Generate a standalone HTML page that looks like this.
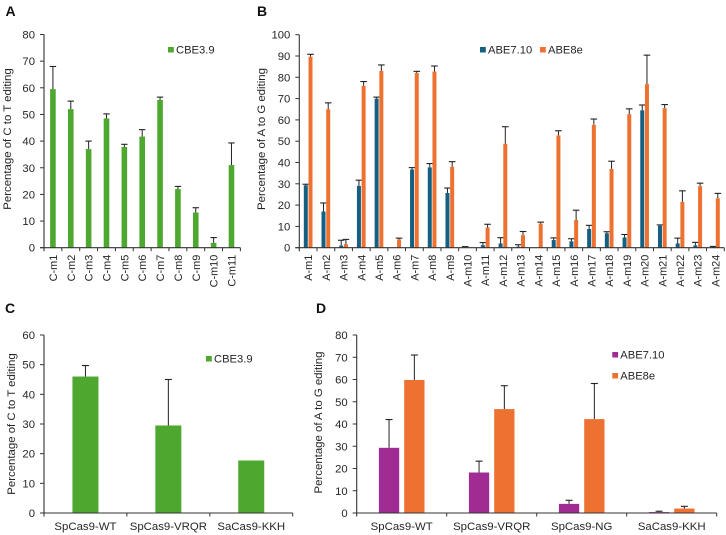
<!DOCTYPE html>
<html>
<head>
<meta charset="utf-8">
<title>Base editing charts</title>
<style>
html,body{margin:0;padding:0;background:#fff;width:726px;height:535px;overflow:hidden}
svg{display:block;filter:blur(0.3px)}
text{font-family:"Liberation Sans",sans-serif;font-size:11.3px;fill:#262626}
.panel{font-size:14px;font-weight:bold;fill:#111}
.title{font-size:11.4px}
.cat-rot{font-size:10.9px}
.cat-hor{font-size:11.4px}
.legend{font-size:11.2px}
</style>
</head>
<body>
<svg id="figure" width="726" height="535" viewBox="0 0 726 535" xmlns="http://www.w3.org/2000/svg"></svg>
<script>
// Panel A
const categoriesA = ['C-m1','C-m2','C-m3','C-m4','C-m5','C-m6','C-m7','C-m8','C-m9','C-m10','C-m11'];
const cbeValuesA = [59.5,52,37,48.5,37.8,41.7,55.5,22,13.2,1.8,31];
const cbeErrorsA = [8.5,3,3,1.7,1,2.6,1,1,1.8,2,8.3];
const ticksA = [0,10,20,30,40,50,60,70,80];
// Panel B
const categoriesB = ['A-m1','A-m2','A-m3','A-m4','A-m5','A-m6','A-m7','A-m8','A-m9','A-m10','A-m11','A-m12','A-m13','A-m14','A-m15','A-m16','A-m17','A-m18','A-m19','A-m20','A-m21','A-m22','A-m23','A-m24'];
const abe710ValuesB = [29.3,17,1,29,70,0,36.7,37.7,25.7,0.3,1.2,2,0.5,0,3.6,3,8.8,6.8,4.8,64.5,10.3,2,1.1,0.4];
const abe710ErrorsB = [0.5,4,2.5,2.7,0.7,0,0.9,1.8,2.3,0.2,1.2,2.7,0.9,0,1,1.2,1.7,0.7,1.4,2.5,0.4,2.5,1.4,0.2];
const abe8eValuesB = [89.7,65,1.7,76,83,3.9,82,82.7,38,0,9.5,48.8,5.9,11.3,52.7,13,57.7,37,62.7,76.8,65.5,21.5,28.9,23.2];
const abe8eErrorsB = [1.1,3,2.2,2,2.8,0.6,0.8,2.6,2.4,0,1.5,8,1.7,0.7,2.2,4.6,2.7,3.6,2.5,13.6,1.7,5.2,1.4,2.3];
const ticksB = [0,10,20,30,40,50,60,70,80,90,100];
// Panel C
const categoriesC = ['SpCas9-WT','SpCas9-VRQR','SaCas9-KKH'];
const cbeValuesC = [46,29.5,17.7];
const cbeErrorsC = [3.7,15.5,0];
const ticksC = [0,10,20,30,40,50,60];
// Panel D
const categoriesD = ['SpCas9-WT','SpCas9-VRQR','SpCas9-NG','SaCas9-KKH'];
const abe710ValuesD = [29.3,18.2,4.1,0.4];
const abe710ErrorsD = [12.7,5.1,1.6,0.4];
const abe8eValuesD = [59.8,46.7,42.2,2];
const abe8eErrorsD = [11.2,10.5,16,1];
const ticksD = [0,10,20,30,40,50,60,70,80];

const NS = 'http://www.w3.org/2000/svg';
const root = document.getElementById('figure');

function make(parent, tag, attrs, name) {
  const el = document.createElementNS(NS, tag);
  for (const k in attrs) el.setAttribute(k, attrs[k]);
  
  
  parent.appendChild(el);
  return el;
}
function label(parent, x, y, str, name, attrs) {
  const t = make(parent, 'text', Object.assign({x: x, y: y}, attrs || {}), name);
  t.textContent = str;
  return t;
}

function drawChart(cfg) {
  const g = make(root, 'g', {}, cfg.id + '-chart');
  const yScale = v => cfg.y0 - (v / cfg.yMax) * (cfg.y0 - cfg.yTop);
  const step = (cfg.right - cfg.left) / cfg.categories.length;
  const xScale = i => cfg.left + step * (i + 0.5);
  const n = cfg.series.length;

  cfg.series.forEach((s, si) => {
    s.values.forEach((v, i) => {
      const cx = xScale(i) + (si - (n - 1) / 2) * (cfg.barWidth + cfg.barGap);
      const top = yScale(v);
      const err = s.errors[i];
      if (err > 0) {
        const up = yScale(v + err);
        make(g, 'line', {x1: cx, x2: cx, y1: top, y2: up, stroke: '#222', 'stroke-width': 1}, cfg.id + '-error-stem');
        make(g, 'line', {x1: cx - cfg.cap, x2: cx + cfg.cap, y1: up, y2: up, stroke: '#222', 'stroke-width': 1.1}, cfg.id + '-error-cap');
      }
      make(g, 'rect', {x: cx - cfg.barWidth / 2, y: top, width: cfg.barWidth, height: cfg.y0 - top, fill: s.color}, cfg.id + '-bar-' + s.name + '-' + cfg.categories[i]);
    });
  });

  make(g, 'line', {x1: cfg.left, x2: cfg.left, y1: cfg.yTop, y2: cfg.y0 + 3.5, stroke: '#333', 'stroke-width': 1.1}, cfg.id + '-y-axis');
  make(g, 'line', {x1: cfg.left - 4, x2: cfg.right, y1: cfg.y0, y2: cfg.y0, stroke: '#333', 'stroke-width': 1.1}, cfg.id + '-x-axis');

  cfg.ticks.forEach(t => {
    const y = yScale(t);
    make(g, 'line', {x1: cfg.left - 4, x2: cfg.left, y1: y, y2: y, stroke: '#333', 'stroke-width': 1}, cfg.id + '-y-tick');
    label(g, cfg.left - 9, y + 4, String(t), cfg.id + '-y-tick-label', {'text-anchor': 'end'});
  });

  cfg.categories.forEach((c, i) => {
    const bx = cfg.left + step * (i + 1);
    make(g, 'line', {x1: bx, x2: bx, y1: cfg.y0, y2: cfg.y0 + 3.5, stroke: '#333', 'stroke-width': 1}, cfg.id + '-x-tick');
    const cx = xScale(i);
    if (cfg.rotated) {
      label(g, cx + 4, cfg.y0 + 7, c, cfg.id + '-x-label', {'text-anchor': 'end', class: 'cat-rot', transform: 'rotate(-90 ' + (cx + 4) + ' ' + (cfg.y0 + 7) + ')'});
    } else {
      label(g, cx, cfg.y0 + 17, c, cfg.id + '-x-label', {'text-anchor': 'middle', class: 'cat-hor'});
    }
  });

  label(g, cfg.titleX, cfg.titleY, cfg.title, cfg.id + '-y-axis-title', {'text-anchor': 'middle', class: 'title', transform: 'rotate(-90 ' + cfg.titleX + ' ' + cfg.titleY + ')'});

  cfg.legend.forEach(l => {
    make(g, 'rect', {x: l.x, y: l.y, width: 5.8, height: 5.5, fill: l.color}, cfg.id + '-legend-swatch');
    label(g, l.x + 8, l.y + 6.3, l.text, cfg.id + '-legend-entry', {class: 'legend'});
  });

  label(g, cfg.letterX, cfg.letterY, cfg.letter, cfg.id + '-panel-label', {class: 'panel'});
}

const GREEN = '#4ea72e', BLUE = '#156082', ORANGE = '#ed7232', PURPLE = '#a02b93';

drawChart({id:'a', letter:'A', letterX:5.5, letterY:16, title:'Percentage of C to T editing', titleX:11, titleY:139,
  left:44, right:240.4, y0:247.7, yTop:34.5, yMax:80, ticks:ticksA, categories:categoriesA, rotated:true,
  barWidth:5.6, barGap:0, cap:3.2,
  series:[{name:'cbe39', color:GREEN, values:cbeValuesA, errors:cbeErrorsA}],
  legend:[{x:168, y:47, color:GREEN, text:'CBE3.9'}]});

drawChart({id:'b', letter:'B', letterX:257, letterY:16, title:'Percentage of A to G editing', titleX:265, titleY:139,
  left:299.3, right:724.3, y0:247.7, yTop:34.7, yMax:100, ticks:ticksB, categories:categoriesB, rotated:true,
  barWidth:4, barGap:0.7, cap:3.3,
  series:[{name:'abe710', color:BLUE, values:abe710ValuesB, errors:abe710ErrorsB},
          {name:'abe8e', color:ORANGE, values:abe8eValuesB, errors:abe8eErrorsB}],
  legend:[{x:480, y:47, color:BLUE, text:'ABE7.10'},{x:540, y:47, color:ORANGE, text:'ABE8e'}]});

drawChart({id:'c', letter:'C', letterX:5, letterY:313, title:'Percentage of C to T editing', titleX:15, titleY:424,
  left:44, right:292.7, y0:513, yTop:335, yMax:60, ticks:ticksC, categories:categoriesC, rotated:false,
  barWidth:26, barGap:0, cap:3.5,
  series:[{name:'cbe39', color:GREEN, values:cbeValuesC, errors:cbeErrorsC}],
  legend:[{x:206, y:356, color:GREEN, text:'CBE3.9'}]});

drawChart({id:'d', letter:'D', letterX:316, letterY:313, title:'Percentage of A to G editing', titleX:322, titleY:422.5,
  left:356.7, right:716.7, y0:513, yTop:335, yMax:80, ticks:ticksD, categories:categoriesD, rotated:false,
  barWidth:20.3, barGap:5, cap:3.5,
  series:[{name:'abe710', color:PURPLE, values:abe710ValuesD, errors:abe710ErrorsD},
          {name:'abe8e', color:ORANGE, values:abe8eValuesD, errors:abe8eErrorsD}],
  legend:[{x:612.3, y:352, color:PURPLE, text:'ABE7.10'},{x:612.3, y:373, color:ORANGE, text:'ABE8e'}]});
</script>
</body>
</html>
